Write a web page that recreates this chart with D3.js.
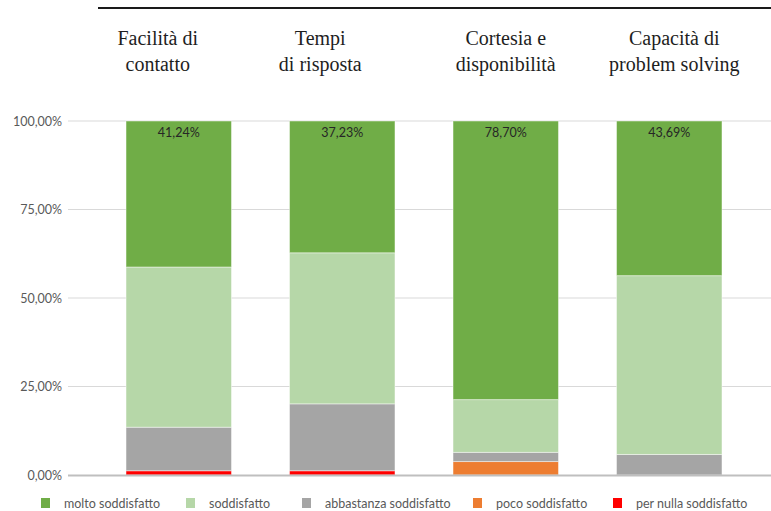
<!DOCTYPE html>
<html>
<head>
<meta charset="utf-8">
<script src="https://cdn.jsdelivr.net/npm/d3@7/dist/d3.min.js"></script>
<style>
  html, body { margin: 0; padding: 0; background: #ffffff; }
  svg { display: block; }
</style>
</head>
<body>
<svg id="chart" width="771" height="511"></svg>
<script>
// Survey dimensions (header labels, two lines each)
const categories = ["facilita", "tempi", "cortesia", "capacita"];
const headerLines = [
  ["Facilità di", "contatto"],
  ["Tempi", "di risposta"],
  ["Cortesia e", "disponibilità"],
  ["Capacità di", "problem solving"]
];

// Satisfaction levels, bottom of the stack first
const seriesNames = ["per nulla soddisfatto", "poco soddisfatto", "abbastanza soddisfatto", "soddisfatto", "molto soddisfatto"];
const seriesColors = ["#ff0000", "#ed7d31", "#a5a5a5", "#b6d7a8", "#70ad47"];

// Shares (%) per category, one array per level
const perNulla   = [1.2, 1.2, 0.0, 0.0];
const poco       = [0.0, 0.0, 3.8, 0.0];
const abbastanza = [12.3, 18.9, 2.6, 5.8];
const soddisfatto = [45.26, 42.67, 14.9, 50.51];
const molto      = [41.24, 37.23, 78.70, 43.69];

// Legend order
const legendNames = ["molto soddisfatto", "soddisfatto", "abbastanza soddisfatto", "poco soddisfatto", "per nulla soddisfatto"];
const legendColors = ["#70ad47", "#b6d7a8", "#a5a5a5", "#ed7d31", "#ff0000"];

const yTicks = [0, 25, 50, 75, 100];

const seriesValues = [perNulla, poco, abbastanza, soddisfatto, molto];
const rows = categories.map((c, i) => {
  const r = { key: c };
  seriesNames.forEach((s, j) => { r[s] = seriesValues[j][i]; });
  return r;
});

const it = d3.formatLocale({ decimal: ",", thousands: ".", grouping: [3], currency: ["€", ""] });
const pct = it.format(".2f");

const svg = d3.select("#chart");

const x = d3.scaleBand()
  .domain(categories)
  .range([97, 751])
  .paddingInner(0.355)
  .paddingOuter(0.1775);

const y = d3.scaleLinear().domain([0, 100]).range([475, 121]);

// Top rule
svg.append("line")
  .attr("x1", 98).attr("x2", 771)
  .attr("y1", 8).attr("y2", 8)
  .attr("stroke", "#1a1a1a").attr("stroke-width", 2);

// Header labels
const headers = svg.append("g")
  .attr("font-family", "'Liberation Serif', 'Times New Roman', serif")
  .attr("font-size", 20)
  .attr("fill", "#1e1e1e")
  .attr("text-anchor", "middle");
const headerShift = [-21, -22, 0, 5];
headerLines.forEach((lines, i) => {
  const cx = x(categories[i]) + x.bandwidth() / 2 + headerShift[i];
  lines.forEach((t, k) => {
    headers.append("text")
      .attr("x", cx).attr("y", 45 + k * 26)
      .text(t);
  });
});

// Gridlines
svg.append("g")
  .selectAll("line")
  .data(yTicks.filter(d => d > 0))
  .join("line")
  .attr("x1", 68).attr("x2", 771)
  .attr("y1", d => y(d)).attr("y2", d => y(d))
  .attr("stroke", "#d9d9d9").attr("stroke-width", 1);

// Y axis labels
const yAxis = d3.axisLeft(y)
  .tickValues(yTicks)
  .tickSize(0)
  .tickPadding(0)
  .tickFormat(d => pct(d) + "%");
const yg = svg.append("g")
  .attr("transform", "translate(62,0)")
  .call(yAxis);
yg.select(".domain").remove();
yg.selectAll("text")
  .attr("font-family", "Lato, 'Open Sans', sans-serif")
  .attr("font-size", 12.5)
  .attr("fill", "#595959");

// Stacked bars
const stack = d3.stack().keys(seriesNames);
const layers = stack(rows);

svg.append("g")
  .selectAll("g")
  .data(layers)
  .join("g")
  .attr("fill", (d, i) => seriesColors[i])
  .selectAll("rect")
  .data(d => d)
  .join("rect")
  .attr("x", d => x(d.data.key))
  .attr("width", x.bandwidth())
  .attr("y", d => y(d[1]))
  .attr("height", d => y(d[0]) - y(d[1]))
  .attr("stroke", "#ffffff")
  .attr("stroke-opacity", 0.45)
  .attr("stroke-width", 1);

// Baseline
svg.append("line")
  .attr("x1", 68).attr("x2", 771)
  .attr("y1", y(0) + 0.5).attr("y2", y(0) + 0.5)
  .attr("stroke", "#bfbfbf").attr("stroke-width", 2);

// Value labels for the top segment
svg.append("g")
  .selectAll("text")
  .data(rows)
  .join("text")
  .attr("x", d => x(d.key) + x.bandwidth() / 2)
  .attr("y", y(100) + 16)
  .attr("text-anchor", "middle")
  .attr("font-family", "Lato, 'Open Sans', sans-serif")
  .attr("font-size", 12.5)
  .attr("fill", "#262626")
  .text(d => pct(d["molto soddisfatto"]) + "%");

// Legend
const legendX = [41, 186, 302, 473, 613];
const lg = svg.append("g");
legendNames.forEach((name, i) => {
  const g = lg.append("g").attr("transform", `translate(${legendX[i]},498)`);
  g.append("rect").attr("width", 9).attr("height", 10).attr("fill", legendColors[i]);
  g.append("text")
    .attr("x", 23).attr("y", 9.5)
    .attr("font-family", "Lato, 'Open Sans', sans-serif")
    .attr("font-size", 12.5)
    .attr("fill", "#595959")
    .text(name);
});
</script>
</body>
</html>
